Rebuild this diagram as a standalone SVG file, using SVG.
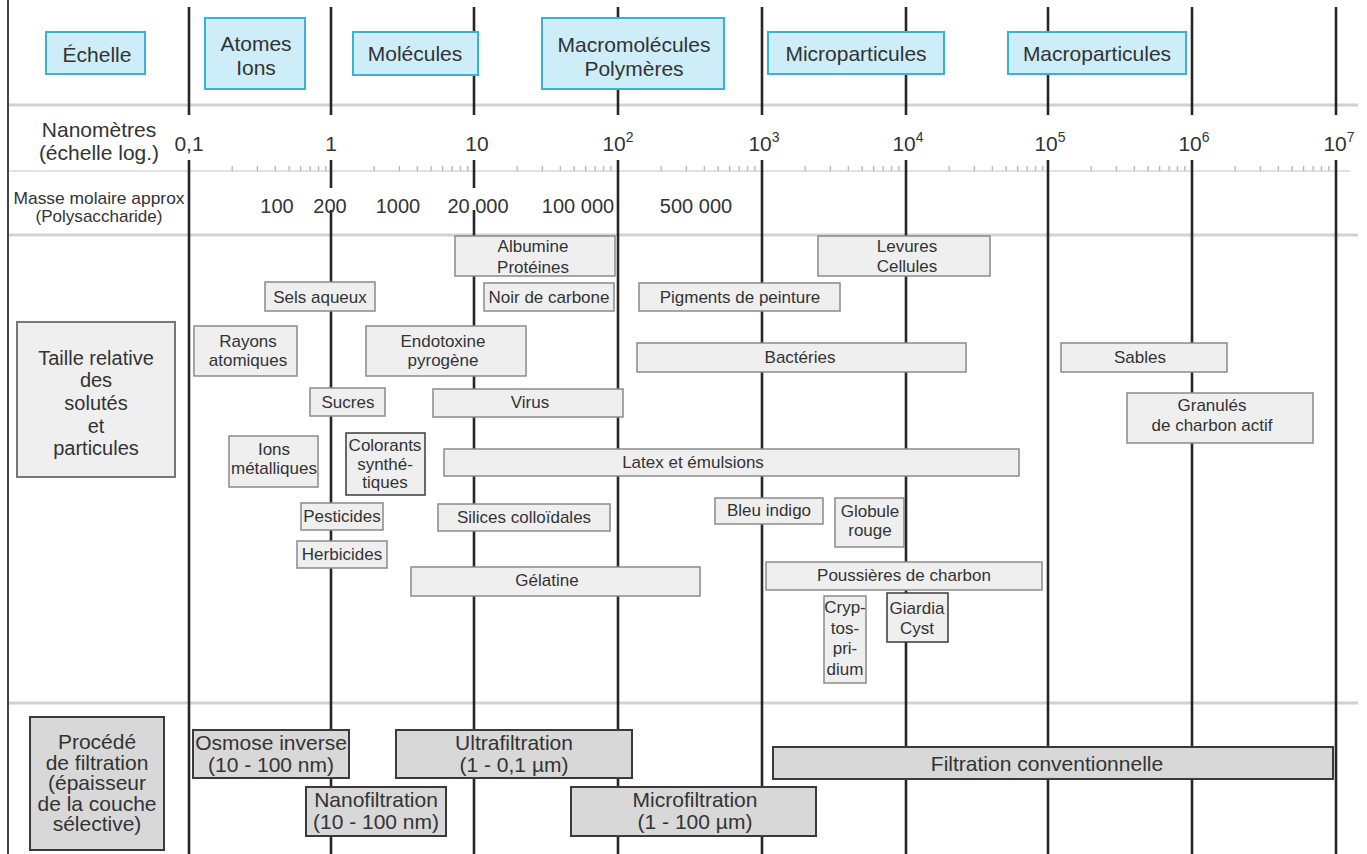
<svg xmlns="http://www.w3.org/2000/svg" width="1367" height="854" viewBox="0 0 1367 854">
<style>
text{font-family:"Liberation Sans",Arial,Helvetica,sans-serif;fill:#333;text-anchor:middle}
.hdr rect{fill:#cdedf8;stroke:#38b3d6;stroke-width:2}
.hdr text{font-size:21px}
.item rect{fill:#efefef;stroke:#8a8a8a;stroke-width:1.5}
.item.dark rect{stroke:#3a3a3a}
.item text{font-size:17px}
.proc rect{fill:#d8d8d8;stroke:#3a3a3a;stroke-width:2}
.proc text{font-size:21px}
.lab rect{fill:#efefef;stroke:#777;stroke-width:2}
.lab text{font-size:20px}
.sep{stroke:#d2d2d2;stroke-width:3;fill:none}
.vl{stroke:#262626;stroke-width:2.6;fill:none}
.ax{font-size:21px}
.mm{font-size:20px}
.sup{font-size:14px}
</style>

<!-- separators and ticks -->
<g id="separators">
<line class="sep" x1="8" y1="105" x2="1358" y2="105"/>
<line x1="8" y1="171" x2="1350" y2="171" stroke="#e2e2e2" stroke-width="2"/>
<line class="sep" x1="8" y1="235" x2="1358" y2="235"/>
<line class="sep" x1="8" y1="703" x2="1358" y2="703"/>
<path stroke="#b5b5b5" stroke-width="1.3" fill="none" d="M232.2 166v5M257.4 166v5M275.3 166v5M289.2 166v5M300.6 166v5M310.2 166v5M318.5 166v5M325.8 166v5M374.2 166v5M399.4 166v5M417.3 166v5M431.2 166v5M442.6 166v5M452.2 166v5M460.5 166v5M467.8 166v5M517.2 166v5M542.4 166v5M560.3 166v5M574.2 166v5M585.6 166v5M595.2 166v5M603.5 166v5M610.8 166v5M661.2 166v5M686.4 166v5M704.3 166v5M718.2 166v5M729.6 166v5M739.2 166v5M747.5 166v5M754.8 166v5M805.2 166v5M830.4 166v5M848.3 166v5M862.2 166v5M873.6 166v5M883.2 166v5M891.5 166v5M898.8 166v5M949.2 166v5M974.4 166v5M992.3 166v5M1006.2 166v5M1017.6 166v5M1027.2 166v5M1035.5 166v5M1042.8 166v5M1091.2 166v5M1116.4 166v5M1134.3 166v5M1148.2 166v5M1159.6 166v5M1169.2 166v5M1177.5 166v5M1184.8 166v5M1235.2 166v5M1260.4 166v5M1278.3 166v5M1292.2 166v5M1303.6 166v5M1313.2 166v5M1321.5 166v5M1328.8 166v5"/>
</g>

<!-- vertical scale lines -->
<g id="scale-lines">
<line x1="8" y1="0" x2="8" y2="854" stroke="#444" stroke-width="2"/>
<path class="vl" d="M189 7V115M189 160V854"/>
<path class="vl" d="M331 7V115M331 160V188M331 210V854"/>
<path class="vl" d="M474 7V115M474 160V188M474 210V854"/>
<path class="vl" d="M618 7V115M618 160V854"/>
<path class="vl" d="M762 7V115M762 160V854"/>
<path class="vl" d="M906 7V115M906 160V854"/>
<path class="vl" d="M1048 7V115M1048 160V854"/>
<path class="vl" d="M1192 7V115M1192 160V854"/>
<path class="vl" d="M1336 7V115M1336 160V854"/>
</g>

<!-- header row -->
<g id="echelle" class="hdr"><rect x="46" y="32" width="99" height="42"/><text x="97" y="62">Échelle</text></g>
<g id="atomes-ions" class="hdr"><rect x="205" y="18" width="100" height="71"/><text x="256" y="51">Atomes</text><text x="256" y="75">Ions</text></g>
<g id="molecules" class="hdr"><rect x="353" y="32" width="125" height="43"/><text x="415" y="61">Molécules</text></g>
<g id="macromolecules" class="hdr"><rect x="542" y="18" width="182" height="71"/><text x="634" y="52">Macromolécules</text><text x="634" y="76">Polymères</text></g>
<g id="microparticules" class="hdr"><rect x="768" y="32" width="176" height="42"/><text x="856" y="61">Microparticules</text></g>
<g id="macroparticules" class="hdr"><rect x="1008" y="32" width="178" height="42"/><text x="1097" y="61">Macroparticules</text></g>

<!-- axis -->
<g id="axis-nm">
<text class="ax" x="99" y="137">Nanomètres</text>
<text class="ax" x="99" y="160">(échelle log.)</text>
<text class="ax" x="189" y="151">0,1</text>
<text class="ax" x="331" y="151">1</text>
<text class="ax" x="477" y="151">10</text>
<text class="ax" x="618" y="151">10<tspan class="sup" dy="-9">2</tspan></text>
<text class="ax" x="764" y="151">10<tspan class="sup" dy="-9">3</tspan></text>
<text class="ax" x="908" y="151">10<tspan class="sup" dy="-9">4</tspan></text>
<text class="ax" x="1050" y="151">10<tspan class="sup" dy="-9">5</tspan></text>
<text class="ax" x="1194" y="151">10<tspan class="sup" dy="-9">6</tspan></text>
<text class="ax" x="1339" y="151">10<tspan class="sup" dy="-9">7</tspan></text>
</g>

<g id="axis-masse">
<text x="99" y="204" font-size="17" textLength="171" lengthAdjust="spacingAndGlyphs">Masse molaire approx</text>
<text x="99" y="222" font-size="17" textLength="127" lengthAdjust="spacingAndGlyphs">(Polysaccharide)</text>
<text class="mm" x="277" y="213">100</text>
<text class="mm" x="330" y="213">200</text>
<text class="mm" x="398" y="213">1000</text>
<text class="mm" x="478" y="213">20 000</text>
<text class="mm" x="578" y="213">100 000</text>
<text class="mm" x="696" y="213">500 000</text>
</g>

<!-- row labels -->
<g id="taille-relative" class="lab"><rect x="17" y="322" width="158" height="155"/>
<text x="96" y="365">Taille relative</text><text x="96" y="387">des</text><text x="96" y="410">solutés</text><text x="96" y="433">et</text><text x="96" y="455">particules</text></g>
<g id="procede" class="proc"><rect x="30" y="717" width="134" height="133"/>
<text x="97" y="749" font-size="18.5">Procédé</text><text x="97" y="769.5" font-size="18.5">de filtration</text><text x="97" y="790" font-size="18.5">(épaisseur</text><text x="97" y="810.5" font-size="18.5">de la couche</text><text x="97" y="831" font-size="18.5">sélective)</text></g>

<!-- solutes and particles -->
<g id="albumine" class="item"><rect x="455" y="236" width="160" height="40"/><text x="533" y="252">Albumine</text><text x="533" y="273">Protéines</text></g>
<g id="levures" class="item"><rect x="818" y="236" width="172" height="40"/><text x="907" y="252">Levures</text><text x="907" y="272">Cellules</text></g>
<g id="sels" class="item"><rect x="265" y="282" width="110" height="29"/><text x="320" y="303">Sels aqueux</text></g>
<g id="noir-carbone" class="item"><rect x="484" y="283" width="130" height="28"/><text x="549" y="303">Noir de carbone</text></g>
<g id="pigments" class="item"><rect x="639" y="283" width="201" height="28"/><text x="740" y="303">Pigments de peinture</text></g>
<g id="rayons" class="item"><rect x="194" y="326" width="103" height="50"/><text x="248" y="347">Rayons</text><text x="248" y="366">atomiques</text></g>
<g id="endotoxine" class="item"><rect x="366" y="326" width="160" height="50"/><text x="443" y="347">Endotoxine</text><text x="443" y="366">pyrogène</text></g>
<g id="bacteries" class="item"><rect x="637" y="343" width="329" height="29"/><text x="800" y="363">Bactéries</text></g>
<g id="sables" class="item"><rect x="1061" y="343" width="166" height="29"/><text x="1140" y="363">Sables</text></g>
<g id="sucres" class="item"><rect x="310" y="388" width="75" height="28"/><text x="348" y="408">Sucres</text></g>
<g id="virus" class="item"><rect x="433" y="389" width="190" height="28"/><text x="530" y="408">Virus</text></g>
<g id="granules" class="item"><rect x="1127" y="393" width="186" height="50"/><text x="1212" y="411">Granulés</text><text x="1212" y="431">de charbon actif</text></g>
<g id="ions-metalliques" class="item"><rect x="229" y="436" width="89" height="51"/><text x="274" y="455">Ions</text><text x="274" y="474">métalliques</text></g>
<g id="colorants" class="item dark"><rect x="346" y="433" width="79" height="62"/><text x="385" y="451">Colorants</text><text x="385" y="470">synthé-</text><text x="385" y="488">tiques</text></g>
<g id="latex" class="item"><rect x="444" y="449" width="575" height="27"/><text x="693" y="468">Latex et émulsions</text></g>
<g id="bleu-indigo" class="item"><rect x="715" y="498" width="108" height="26"/><text x="769" y="516">Bleu indigo</text></g>
<g id="globule" class="item"><rect x="835" y="498" width="69" height="49"/><text x="870" y="517">Globule</text><text x="870" y="536">rouge</text></g>
<g id="pesticides" class="item"><rect x="301" y="503" width="82" height="27"/><text x="342" y="522">Pesticides</text></g>
<g id="silices" class="item"><rect x="438" y="504" width="172" height="27"/><text x="524" y="523">Silices colloïdales</text></g>
<g id="herbicides" class="item"><rect x="297" y="541" width="90" height="27"/><text x="342" y="560">Herbicides</text></g>
<g id="poussieres" class="item"><rect x="766" y="562" width="276" height="28"/><text x="904" y="581">Poussières de charbon</text></g>
<g id="gelatine" class="item"><rect x="411" y="567" width="289" height="29"/><text x="547" y="586">Gélatine</text></g>
<g id="cryptosporidium" class="item"><rect x="824" y="596" width="42" height="87"/><text x="845" y="613" font-size="16">Cryp-</text><text x="845" y="634" font-size="16">tos-</text><text x="845" y="654" font-size="16">pri-</text><text x="845" y="675" font-size="16">dium</text></g>
<g id="giardia" class="item dark"><rect x="887" y="593" width="61" height="49"/><text x="917" y="614" font-size="16">Giardia</text><text x="917" y="634" font-size="16">Cyst</text></g>

<!-- filtration processes -->
<g id="osmose" class="proc"><rect x="193" y="730" width="156" height="48"/><text x="271" y="750">Osmose inverse</text><text x="271" y="772">(10 - 100 nm)</text></g>
<g id="ultrafiltration" class="proc"><rect x="396" y="730" width="236" height="48"/><text x="514" y="750">Ultrafiltration</text><text x="514" y="772">(1 - 0,1 µm)</text></g>
<g id="nanofiltration" class="proc"><rect x="306" y="787" width="140" height="49"/><text x="376" y="807">Nanofiltration</text><text x="376" y="829">(10 - 100 nm)</text></g>
<g id="microfiltration" class="proc"><rect x="571" y="787" width="245" height="49"/><text x="695" y="807">Microfiltration</text><text x="695" y="829">(1 - 100 µm)</text></g>
<g id="filtration-conventionnelle" class="proc"><rect x="773" y="747" width="560" height="32"/><text x="1047" y="771">Filtration conventionnelle</text></g>
</svg>
